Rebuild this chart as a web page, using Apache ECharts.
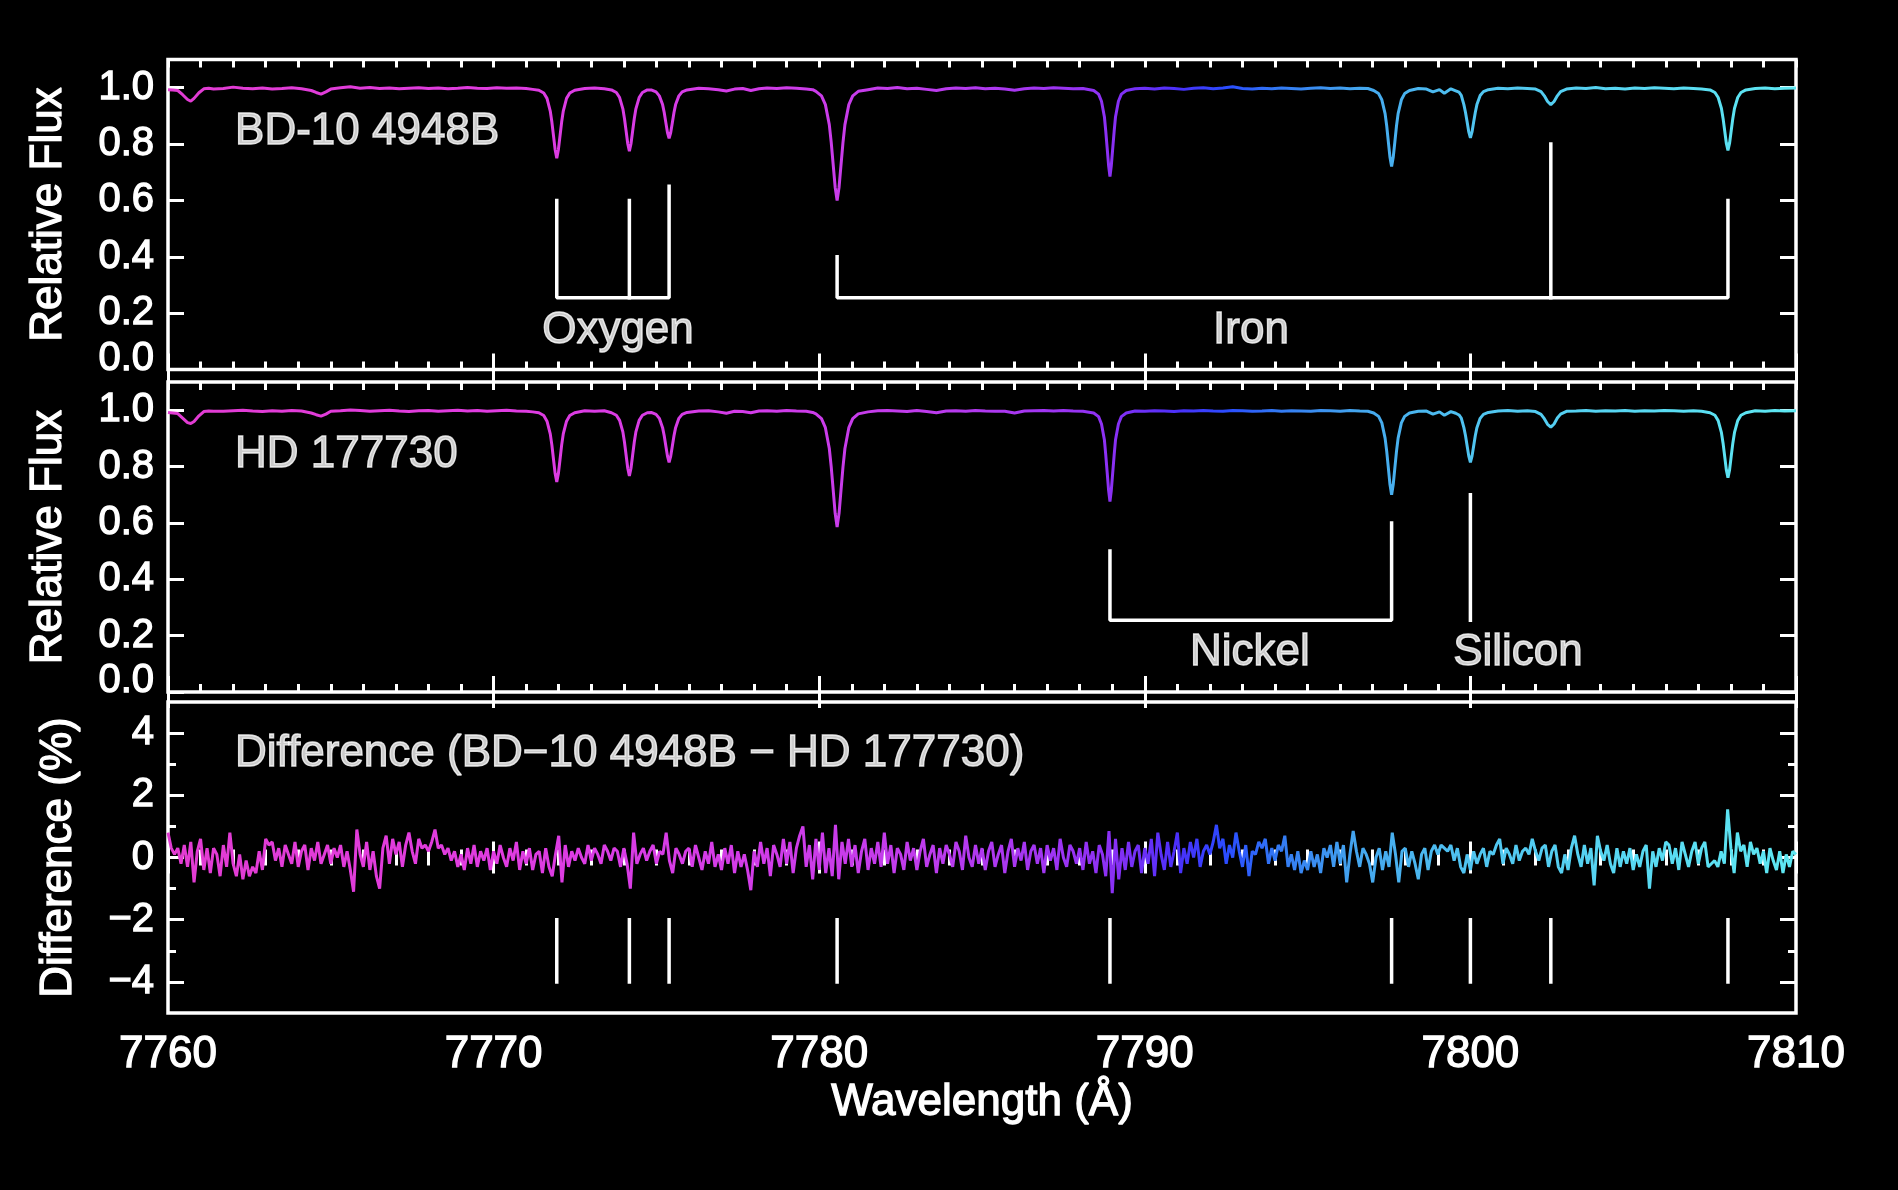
<!DOCTYPE html>
<html>
<head>
<meta charset="utf-8">
<script src="https://cdn.jsdelivr.net/npm/echarts@6/dist/echarts.min.js"></script>
<style>html,body{margin:0;padding:0;background:#000;}#c{width:1898px;height:1190px;}</style>
</head>
<body>
<div id="c"></div>
<script>
// ---------- data ----------
const wave = [
7760.0,7760.15,7760.3,7760.45,7760.6,7760.7,7760.8,7760.95,7761.1,7761.25,7761.4,
7761.7,7762.0,7762.3,7762.6,7762.9,7763.2,7763.5,7763.8,7764.1,7764.4,7764.55,7764.7,7764.85,7765.0,7765.3,7765.6,7765.9,7766.2,7766.5,7766.8,7767.1,7767.4,7767.7,7768.0,7768.3,7768.6,7768.9,7769.2,7769.5,7769.8,7770.1,7770.4,7770.7,7771.0,7771.2,
7771.39,7771.54,7771.64,7771.74,7771.79,7771.84,7771.89,7771.94,7771.99,7772.04,7772.09,7772.14,7772.24,7772.34,7772.49,
7772.8,7773.1,7773.4,
7773.62,7773.77,7773.87,7773.97,7774.02,7774.07,7774.12,7774.17,7774.22,7774.27,7774.32,7774.37,7774.47,7774.57,7774.72,
7774.84,7774.99,7775.09,7775.19,7775.24,7775.29,7775.34,7775.39,7775.44,7775.49,7775.54,7775.59,7775.69,7775.79,7775.94,
7776.3,7776.6,7776.9,7777.15,7777.4,7777.65,7777.9,7778.15,7778.4,7778.7,7779.0,7779.3,7779.6,7779.8,
7779.9,7780.07,7780.19,7780.31,7780.37,7780.43,7780.49,7780.55,7780.61,7780.67,7780.73,7780.79,7780.91,7781.03,7781.2,
7781.5,7781.8,7782.1,7782.4,7782.7,7783.0,7783.3,7783.6,7783.9,7784.2,7784.5,7784.8,7785.1,7785.4,7785.7,7786.0,7786.3,7786.6,7786.9,7787.2,7787.5,7787.8,7788.1,
7788.43,7788.58,7788.67,7788.76,7788.8,7788.845,7788.89,7788.93,7788.97,7789.015,7789.06,7789.1,7789.19,7789.28,7789.43,
7789.7,7790.0,7790.3,7790.6,7790.9,7791.2,7791.5,7791.8,7792.1,7792.4,7792.7,7793.0,7793.3,7793.6,7793.9,7794.2,7794.5,7794.8,7795.1,7795.4,7795.7,7796.0,7796.3,7796.6,7796.85,
7797.03,7797.18,7797.28,7797.38,7797.43,7797.48,7797.53,7797.58,7797.63,7797.68,7797.73,7797.78,7797.88,7797.98,7798.13,
7798.4,7798.65,7798.85,7799.05,7799.2,7799.4,
7799.55,7799.65,7799.72,7799.8,7799.85,7799.9,7799.95,7800.0,7800.05,7800.1,7800.15,7800.2,7800.3,7800.4,7800.55,
7800.85,7801.15,7801.45,7801.75,
7802.0,7802.17,7802.27,7802.37,7802.47,7802.57,7802.67,7802.77,7802.95,
7803.25,7803.55,7803.85,7804.15,7804.45,7804.75,7805.05,7805.35,7805.65,7805.95,7806.25,7806.55,7806.85,7807.1,
7807.36,7807.51,7807.61,7807.71,7807.76,7807.81,7807.86,7807.91,7807.96,7808.01,7808.06,7808.11,7808.21,7808.31,7808.46,
7808.75,7809.05,7809.35,7809.65,7810.0
];
const fluxBD = [
0.993,0.992,0.99,0.975,0.958,0.952,0.962,0.982,0.996,0.998,0.995,
0.997,1.002,0.998,0.996,0.999,0.995,0.997,1.0,0.996,0.99,0.983,0.977,0.985,0.995,1.0,1.003,0.998,1.001,0.997,0.999,0.996,0.998,1.0,0.997,0.999,0.996,0.998,1.001,0.998,0.997,1.0,0.998,0.999,0.997,0.994,
0.991,0.981,0.962,0.917,0.878,0.829,0.78,0.75,0.78,0.829,0.878,0.917,0.962,0.981,0.991,
0.997,0.999,0.996,
0.992,0.983,0.965,0.925,0.89,0.846,0.801,0.775,0.801,0.846,0.89,0.925,0.965,0.983,0.992,
0.992,0.985,0.971,0.94,0.912,0.876,0.841,0.82,0.841,0.876,0.912,0.94,0.971,0.985,0.992,
0.998,0.996,0.993,0.988,0.995,0.997,0.99,0.996,0.999,0.997,1.0,0.998,0.995,0.993,
0.987,0.971,0.94,0.869,0.805,0.726,0.647,0.60,0.647,0.726,0.805,0.869,0.94,0.971,0.987,
0.993,0.999,0.997,1.001,0.996,0.998,0.994,0.99,0.996,0.999,0.997,1.0,0.996,0.998,0.995,0.991,0.996,0.999,0.997,1.0,0.998,0.996,0.997,
0.99,0.977,0.952,0.896,0.847,0.785,0.722,0.685,0.722,0.785,0.847,0.896,0.952,0.977,0.99,
0.996,0.998,0.995,0.999,0.997,0.994,0.998,1.0,0.996,0.999,1.003,0.997,0.995,0.998,0.996,0.999,0.997,0.995,0.998,1.0,0.997,0.999,0.996,0.998,0.997,
0.990,0.979,0.957,0.908,0.864,0.808,0.753,0.72,0.753,0.808,0.864,0.908,0.957,0.979,0.990,
0.997,0.995,0.985,0.993,0.98,0.996,
0.989,0.984,0.973,0.94,0.912,0.878,0.843,0.822,0.843,0.878,0.912,0.94,0.972,0.986,0.993,
0.998,0.996,0.999,0.997,
0.995,0.986,0.971,0.951,0.94,0.951,0.971,0.986,0.995,
0.999,0.997,1.001,0.996,0.998,0.995,0.999,0.997,1.0,0.998,0.996,0.999,0.997,0.995,
0.992,0.983,0.965,0.926,0.891,0.847,0.803,0.777,0.803,0.847,0.891,0.926,0.965,0.983,0.992,
0.997,0.999,0.996,0.998,0.999
];
const fluxHD = [
0.992,0.99,0.988,0.972,0.956,0.953,0.96,0.98,0.995,0.997,0.996,
0.996,0.998,1.0,0.997,0.995,0.998,0.996,0.999,0.997,0.99,0.984,0.979,0.986,0.996,0.998,1.001,0.999,0.996,0.998,1.0,0.997,0.995,0.998,0.999,0.996,0.998,1.0,0.997,0.999,0.996,0.998,1.0,0.997,0.996,0.994,
0.991,0.981,0.961,0.916,0.876,0.825,0.775,0.745,0.775,0.825,0.876,0.916,0.961,0.981,0.991,
0.998,0.996,0.998,
0.991,0.982,0.964,0.923,0.886,0.840,0.794,0.767,0.794,0.840,0.886,0.923,0.964,0.982,0.991,
0.992,0.985,0.971,0.938,0.909,0.873,0.837,0.815,0.837,0.873,0.909,0.938,0.971,0.985,0.992,
0.997,0.998,0.994,0.989,0.996,0.995,0.991,0.997,0.998,0.996,0.999,0.997,0.996,0.992,
0.987,0.970,0.938,0.864,0.798,0.716,0.634,0.585,0.634,0.716,0.798,0.864,0.938,0.970,0.987,
0.994,0.998,0.999,0.997,0.995,0.999,0.995,0.991,0.997,0.998,0.996,0.999,0.997,0.996,0.996,0.99,0.997,0.998,0.999,0.997,0.999,0.997,0.996,
0.99,0.977,0.951,0.894,0.842,0.778,0.714,0.676,0.714,0.778,0.842,0.894,0.951,0.977,0.99,
0.997,0.996,0.998,0.997,0.995,0.998,0.997,0.999,0.997,0.996,0.999,0.998,0.996,0.997,0.999,0.996,0.998,0.997,0.996,0.999,0.998,0.996,0.999,0.997,0.996,
0.99,0.978,0.955,0.901,0.854,0.795,0.736,0.70,0.736,0.795,0.854,0.901,0.955,0.978,0.99,
0.996,0.997,0.986,0.994,0.982,0.995,
0.989,0.983,0.972,0.938,0.909,0.873,0.837,0.815,0.837,0.873,0.909,0.938,0.971,0.985,0.992,
0.997,0.999,0.996,0.998,
0.995,0.985,0.970,0.950,0.94,0.951,0.972,0.986,0.996,
0.997,0.999,0.996,0.998,0.997,0.999,0.996,0.998,0.997,0.999,0.998,0.996,0.998,0.996,
0.991,0.982,0.963,0.920,0.883,0.836,0.788,0.76,0.788,0.836,0.883,0.920,0.963,0.982,0.991,
0.998,0.996,0.999,0.997,0.998
];
// difference (%) sampled every 0.1 A from 7760.0
const diffStart = 7760.0;
const diffStep = 0.1;
const diffValues = [
0.8,0.3,0.1,0.3,-0.2,0.4,-0.3,0.5,-0.8,0.2,
0.6,-0.4,0.3,-0.5,0.3,0.1,-0.6,0.4,-0.3,0.8,
-0.2,-0.6,0.1,-0.7,-0.1,-0.6,-0.3,-0.5,0.2,-0.4,
0.6,0.4,0.5,-0.1,0.3,-0.3,0.4,0.1,-0.2,0.5,
-0.3,0.2,0.4,-0.4,0.3,-0.1,0.5,-0.2,0.1,0.4,
-0.2,0.3,0.0,0.4,-0.3,0.2,-0.4,-1.1,0.9,0.1,
-0.3,0.5,-0.4,0.2,-0.6,-1.0,0.3,0.7,-0.2,0.6,
0.1,0.5,-0.3,0.4,0.8,0.2,-0.2,0.6,0.3,0.4,
0.2,0.5,0.9,0.3,0.4,0.1,0.3,-0.1,0.2,-0.3,
0.1,-0.4,0.3,-0.2,0.4,-0.3,0.2,-0.1,0.3,-0.4,
0.2,-0.2,0.4,0.0,-0.3,0.3,-0.1,0.5,-0.4,0.2,
-0.2,0.3,-0.4,0.1,0.2,-0.5,0.3,-0.3,-0.6,0.1,
0.7,-0.8,0.4,-0.3,0.2,-0.1,0.3,0.0,-0.2,0.4,
-0.1,0.3,0.1,-0.2,0.4,0.2,-0.1,0.3,0.2,-0.3,
0.3,-0.2,-1.0,0.8,-0.2,0.1,0.3,-0.1,0.2,0.4,
-0.2,0.2,0.1,0.8,-0.1,-0.5,0.3,0.1,-0.2,0.2,
0.3,-0.3,0.4,0.0,-0.4,0.2,-0.2,0.5,-0.3,0.1,
-0.4,0.3,-0.2,0.4,-0.5,0.2,-0.3,0.1,-0.4,-1.05,
0.2,-0.3,0.5,-0.2,0.3,-0.6,0.4,0.1,-0.3,0.6,
-0.2,0.5,-0.5,0.3,0.7,1.0,-0.3,0.4,-0.7,0.6,
-0.4,0.8,-0.5,0.3,-0.6,1.05,-0.7,0.5,-0.2,0.6,
-0.3,0.4,-0.5,0.2,0.6,-0.4,0.3,-0.2,0.5,-0.3,
0.8,-0.2,0.4,-0.5,0.3,0.1,-0.4,0.5,-0.1,0.3,
-0.4,0.2,0.6,-0.3,0.1,0.4,-0.5,0.3,-0.2,0.4,
0.1,-0.3,0.5,0.2,-0.4,0.7,0.0,-0.3,0.4,-0.2,
0.3,-0.4,0.2,0.5,-0.3,0.1,0.4,-0.5,0.2,0.6,
-0.3,0.3,-0.1,0.5,-0.4,0.2,0.4,-0.2,0.3,-0.5,
0.4,-0.1,0.3,-0.4,0.6,0.0,-0.3,0.4,0.2,-0.2,
0.3,-0.4,0.5,-0.2,0.2,-0.5,0.4,0.1,-0.6,0.85,
-1.15,0.6,-0.7,0.3,-0.4,0.5,-0.3,0.2,0.4,-0.5,
0.3,-0.2,0.6,-0.6,0.8,0.1,-0.4,0.5,-0.3,0.2,
0.8,-0.5,0.3,-0.2,0.5,0.0,0.6,-0.3,0.2,0.4,
0.1,0.5,1.05,0.3,0.6,-0.2,0.4,0.0,0.8,0.2,
-0.3,0.4,-0.6,0.2,0.1,0.5,0.3,0.6,-0.2,0.3,
-0.1,0.4,0.2,0.7,-0.3,0.1,-0.4,0.2,-0.5,-0.1,
-0.4,0.2,-0.3,0.1,-0.5,0.3,0.0,0.4,-0.3,0.5,
-0.2,0.4,-0.8,0.1,0.85,0.2,-0.3,0.3,0.1,-0.2,
-0.8,0.0,0.3,-0.4,0.2,-0.3,0.8,0.1,-0.8,0.2,
0.3,-0.3,0.2,-0.2,-0.7,0.1,0.3,-0.4,0.2,0.4,
0.1,0.4,0.3,0.2,0.4,-0.1,0.3,-0.3,-0.5,0.1,
-0.4,0.2,-0.2,0.1,0.3,-0.3,0.2,0.1,0.4,0.6,
-0.2,0.3,0.1,-0.2,0.4,-0.1,0.2,0.3,0.1,0.6,
0.2,-0.1,0.3,0.4,-0.3,0.2,0.4,-0.3,-0.5,0.1,
-0.4,0.3,0.7,0.1,-0.3,0.4,-0.2,0.3,-0.9,0.7,
0.2,-0.1,0.4,-0.2,-0.5,0.3,-0.3,0.2,-0.2,0.3,
-0.4,0.1,-0.3,0.2,0.4,-1.0,0.2,-0.3,0.3,-0.1,
0.5,0.4,-0.2,0.3,-0.4,0.5,0.1,-0.3,0.2,0.5,
-0.2,0.3,0.5,-0.3,-0.2,-0.1,-0.3,0.2,-0.2,1.55,
0.3,-0.5,0.8,0.2,0.4,-0.3,0.5,0.1,0.3,-0.2,
0.2,-0.5,0.3,-0.1,-0.4,0.2,-0.5,0.1,-0.3,0.2,
0.1
];
// line identifications (A)
const oxygenLines = [7771.94, 7774.17, 7775.39];
const ironLines = [7780.55, 7802.47, 7807.91];
const nickelLines = [7788.93, 7797.58];
const siliconLines = [7800.0];
// bracket stem tops (relative flux) and bracket base level
const oxygenTops = [0.60, 0.60, 0.65];
const ironTops = [0.40, 0.80, 0.60];
const nickelTops = [0.50, 0.60];
const siliconTops = [0.70];
const bracketBase = 0.255;
const diffMarkRange = [-2, -4];
// text annotations: [text, wavelength, value, align]
const panel1Text = [["BD-10 4948B", 7762.06, 0.842, "left"], ["Oxygen", 7773.82, 0.137, "center"], ["Iron", 7793.26, 0.137, "center"]];
const panel2Text = [["HD 177730", 7762.06, 0.842, "left"], ["Nickel", 7793.23, 0.14, "center"], ["Silicon", 7801.46, 0.14, "center"]];
const panel3Text = [["Difference (BD\u221210 4948B \u2212 HD 177730)", 7762.06, 3.34, "left"]];
const fluxTicks = [0, 0.2, 0.4, 0.6, 0.8, 1.0];
const diffMajorTicks = [-4, -2, 0, 2, 4];
const diffMinorTicks = [-3, -1, 1, 3];
const colorStops = [[7760,'#e23cd2'],[7770,'#e03ce0'],[7778,'#d23ce8'],[7783,'#c03cec'],[7787,'#a035f2'],[7789,'#8a30f4'],[7791,'#4a30fa'],[7792.5,'#2a4cff'],[7794,'#3278f4'],[7796.5,'#44a6ee'],[7800,'#50c4f0'],[7805,'#58d8f2'],[7810,'#5ee8f2']];

// ---------- chart ----------
const FONT = '"Liberation Sans", Arial, Helvetica, sans-serif';
const WHITE = '#ffffff';
const TXT = {color: WHITE, fontFamily: FONT, textBorderColor: WHITE, textBorderWidth: 1.3};
const chart = echarts.init(document.getElementById('c'));
const XMIN = 7760, XMAX = 7810;
function grad() {
  return new echarts.graphic.LinearGradient(0, 0, 1, 0,
    colorStops.map(([w, c]) => ({offset: (w - XMIN) / (XMAX - XMIN), color: c})));
}
const grids = [
  {left: 168, width: 1628, top: 59.5, height: 310},
  {left: 168, width: 1628, top: 382, height: 310},
  {left: 168, width: 1628, top: 702, height: 311}
].map(g => Object.assign(g, {show: true, borderColor: WHITE, borderWidth: 3.5, backgroundColor: 'transparent'}));

function xAx(gi, pos, labels, interval, len) {
  return {
    type: 'value', gridIndex: gi, position: pos, min: XMIN, max: XMAX, interval: interval,
    axisLine: {show: false},
    axisTick: {show: true, inside: true, length: len, lineStyle: {color: WHITE, width: 3}},
    splitLine: {show: false},
    axisLabel: Object.assign({show: labels, fontSize: 44, margin: 20, formatter: v => String(v)}, TXT),
    name: labels ? 'Wavelength (\u00c5)' : '', nameLocation: 'middle', nameGap: 68,
    nameTextStyle: Object.assign({fontSize: 44}, TXT)
  };
}
function yFlux(gi, pos, labels) {
  return {
    type: 'value', gridIndex: gi, position: pos, min: 0, max: 1.1, interval: 0.2,
    axisLine: {show: false},
    axisTick: {show: true, inside: true, length: 16, customValues: fluxTicks, lineStyle: {color: WHITE, width: 3}},
    splitLine: {show: false},
    axisLabel: Object.assign({show: labels, customValues: fluxTicks, fontSize: 40, margin: 14,
      formatter: v => (v === 0 ? '{low|0.0}' : v.toFixed(1)),
      rich: {low: Object.assign({fontSize: 40, padding: [0, 0, 22, 0]}, TXT)}}, TXT),
    name: labels ? 'Relative Flux' : '', nameLocation: 'middle', nameRotate: 90, nameGap: 97,
    nameTextStyle: Object.assign({fontSize: 44}, TXT)
  };
}
function yDiff(pos, labels, ticks, len) {
  return {
    type: 'value', gridIndex: 2, position: pos, min: -5, max: 5, interval: 1,
    axisLine: {show: false},
    axisTick: {show: true, inside: true, length: len, customValues: ticks, lineStyle: {color: WHITE, width: 3}},
    splitLine: {show: false},
    axisLabel: Object.assign({show: labels, customValues: ticks, formatter: v => (v < 0 ? '\u2212' + (-v) : String(v)), fontSize: 40, margin: 14}, TXT),
    name: labels ? 'Difference (%)' : '', nameLocation: 'middle', nameRotate: 90, nameGap: 87,
    nameTextStyle: Object.assign({fontSize: 44}, TXT)
  };
}

const xAxes = [];
[0, 1, 2].forEach(gi => {
  xAxes.push(xAx(gi, 'bottom', gi === 2, 10, 16));  // index gi*4
  xAxes.push(xAx(gi, 'top', false, 10, 16));
  xAxes.push(xAx(gi, 'bottom', false, 1, 8));
  xAxes.push(xAx(gi, 'top', false, 1, 8));
});
const yAxes = [yFlux(0, 'left', true), yFlux(0, 'right', false), yFlux(1, 'left', true), yFlux(1, 'right', false),
  yDiff('left', true, diffMajorTicks, 16), yDiff('right', false, diffMajorTicks, 16),
  yDiff('left', false, diffMinorTicks, 8), yDiff('right', false, diffMinorTicks, 8)];
const XI = [0, 4, 8];   // data x axis per panel
const YI = [0, 2, 4];   // data y axis per panel

const series = [];
function specSeries(flux, p) {
  return {type: 'line', xAxisIndex: XI[p], yAxisIndex: YI[p], showSymbol: false, silent: true, z: 3,
    data: wave.map((w, i) => [w, flux[i]]), lineStyle: {width: 3, color: grad()}};
}
series.push(specSeries(fluxBD, 0));
series.push(specSeries(fluxHD, 1));
series.push({type: 'line', xAxisIndex: XI[2], yAxisIndex: YI[2], showSymbol: false, silent: true, z: 3,
  data: diffValues.map((v, i) => [+(diffStart + i * diffStep).toFixed(2), v]), lineStyle: {width: 3, color: grad()}});

function polySeries(pts, p) {
  return {type: 'line', xAxisIndex: XI[p], yAxisIndex: YI[p], showSymbol: false, silent: true, z: 4,
    data: pts, lineStyle: {width: 3.5, color: WHITE, cap: 'square'}};
}
function bracket(lines, tops, p) {
  const first = lines[0], last = lines[lines.length - 1];
  series.push(polySeries([[first, tops[0]], [first, bracketBase], [last, bracketBase], [last, tops[tops.length - 1]]], p));
  for (let i = 1; i < lines.length - 1; i++) series.push(polySeries([[lines[i], bracketBase], [lines[i], tops[i]]], p));
}
bracket(oxygenLines, oxygenTops, 0);
bracket(ironLines, ironTops, 0);
bracket(nickelLines, nickelTops, 1);
siliconLines.forEach((w, i) => series.push(polySeries([[w, bracketBase], [w, siliconTops[i]]], 1)));
const allLines = [].concat(oxygenLines, ironLines, nickelLines, siliconLines).sort((a, b) => a - b);
allLines.forEach(w => series.push(polySeries([[w, diffMarkRange[0]], [w, diffMarkRange[1]]], 2)));

function textSeries(items, p) {
  return {type: 'scatter', xAxisIndex: XI[p], yAxisIndex: YI[p], symbolSize: 1, silent: true, z: 5,
    itemStyle: {color: 'rgba(0,0,0,0)'},
    label: Object.assign({show: true, position: 'inside', formatter: '{b}', fontSize: 44}, TXT),
    data: items.map(([t, x, y, a]) => ({name: t, value: [x, y], label: {align: a, verticalAlign: 'middle'}}))};
}
series.push(textSeries(panel1Text, 0));
series.push(textSeries(panel2Text, 1));
series.push(textSeries(panel3Text, 2));

chart.setOption({
  backgroundColor: '#000000',
  animation: false,
  textStyle: {fontFamily: FONT},
  grid: grids,
  xAxis: xAxes,
  yAxis: yAxes,
  series: series
});
</script>
</body>
</html>
